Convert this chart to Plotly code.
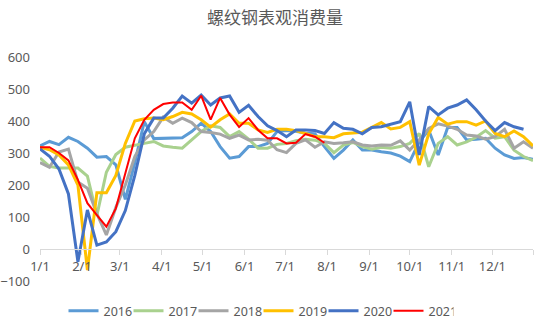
import datetime as dt
import plotly.graph_objects as go

# weekly points, mapped onto a common calendar year
n_weeks = 53
base = dt.date(2021, 1, 1)
weeks = [(base + dt.timedelta(days=7 * i)).isoformat() for i in range(n_weeks)]

series_names = ["2016", "2017", "2018", "2019", "2020", "2021"]

v2016 = [322, 336, 326, 349, 336, 315, 287, 289, 263, 155, 270, 398, 345, 346, 348, 348,
         367, 393, 367, 320, 284, 289, 320, 320, 330, 367, 370, 368, 362, 360, 320, 283,
         309, 341, 309, 309, 304, 300, 290, 273, 335, 372, 294, 380, 380, 341, 343, 346,
         315, 294, 283, 286, 280]
v2017 = [284, 258, 253, 253, 253, 228, 105, 240, 295, 318, 325, 330, 336, 322, 318, 315,
         341, 367, 385, 380, 351, 367, 343, 315, 315, 327, 330, 338, 343, 340, 330, 301,
         325, 333, 320, 312, 318, 315, 320, 330, 361, 257, 330, 351, 325, 335, 349, 370,
         346, 351, 309, 289, 276]
v2018 = [270, 255, 303, 312, 209, 190, 110, 44, 130, 200, 289, 341, 367, 412, 393, 409,
         395, 367, 364, 359, 346, 356, 341, 343, 340, 310, 301, 330, 341, 318, 335, 330,
         332, 335, 325, 322, 325, 324, 338, 309, 341, 377, 391, 384, 374, 356, 353, 343,
         351, 374, 315, 335, 315]
v2019 = [318, 310, 294, 263, 200, -66, 176, 176, 230, 330, 400, 407, 409, 404, 414, 427,
         422, 404, 381, 404, 422, 393, 393, 372, 364, 374, 374, 370, 361, 351, 351, 348,
         360, 362, 365, 380, 395, 375, 380, 398, 262, 360, 411, 390, 398, 398, 387, 400,
         361, 351, 369, 351, 322]
v2020 = [313, 290, 250, 172, -40, 122, 12, 22, 54, 120, 230, 360, 409, 409, 440, 478,
         456, 481, 450, 472, 478, 427, 449, 414, 385, 370, 351, 372, 372, 370, 361, 395,
         377, 374, 360, 380, 382, 390, 398, 460, 294, 445, 419, 440, 450, 466, 435, 400,
         370, 395, 382, 374, None]
v2021 = [318, 318, 300, 277, 216, 143, 106, 70, 127, 237, 346, 404, 435, 453, 458, 458,
         435, 479, 404, 472, 420, 381, 409, 372, 346, 346, 330, 332, 359, 351, 332] + [None] * 22

series_values = [v2016, v2017, v2018, v2019, v2020, v2021]
series_colors = ["#5B9BD5", "#A9D18E", "#A5A5A5", "#FFC000", "#4472C4", "#FF0000"]
series_widths = [3, 3, 3, 3, 3, 2]

month_ticks = ["2021-%02d-01" % m for m in range(1, 13)] + ["2021-12-31"]
month_labels = ["%d/1" % m for m in range(1, 13)] + [""]

fig = go.Figure()
for name, vals, col, w in zip(series_names, series_values, series_colors, series_widths):
    fig.add_trace(go.Scatter(x=weeks, y=vals, name=name, mode="lines",
                             line=dict(color=col, width=w), connectgaps=False))

txt = "#595959"
fnt = "Noto Sans, DejaVu Sans, sans-serif"
fig.update_layout(
    width=550, height=332,
    margin=dict(l=40, r=17, t=57, b=51, autoexpand=False),
    paper_bgcolor="white", plot_bgcolor="white",
    font=dict(family=fnt, color=txt, size=12),
    title=dict(text="螺纹钢表观消费量", x=0.5, xanchor="center", y=0.945, yanchor="middle",
               font=dict(size=17, color=txt, family="Noto Sans CJK SC")),
    showlegend=True,
    legend=dict(orientation="h", xref="container", yref="container", x=0.47, xanchor="center",
                y=0.063, yanchor="middle", font=dict(size=12.5, color=txt, family=fnt),
                itemwidth=30, tracegroupgap=0, entrywidth=20, entrywidthmode="pixels"),
)
fig.update_xaxes(
    type="date", range=["2021-01-01", "2021-12-31"],
    anchor="free", position=1 / 7,
    tickmode="array", tickvals=month_ticks, ticktext=month_labels,
    showline=True, linecolor="#D9D9D9", linewidth=1,
    ticks="outside", ticklen=5, tickcolor="#D9D9D9",
    showgrid=False, zeroline=False, ticklabelstandoff=0,
    tickfont=dict(size=13, color=txt, family=fnt),
)
fig.update_yaxes(
    range=[-100, 600], dtick=100, tick0=0, showgrid=False, zeroline=False,
    showline=False, ticks="", domain=[0, 1], ticklabelstandoff=9,
    tickfont=dict(size=13, color=txt, family=fnt),
)

fig.write_html("out.html")
